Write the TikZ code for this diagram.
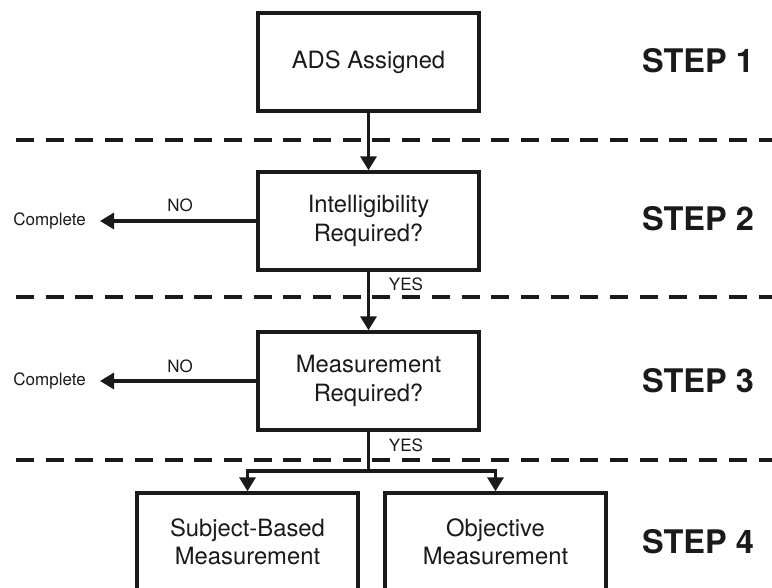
\documentclass[tikz,border=0pt]{standalone}
\usepackage{fontspec}
\setmainfont{TeX Gyre Heros}
\usepackage{xcolor}
\usetikzlibrary{arrows.meta, positioning, calc}
\definecolor{fcink}{HTML}{1A1A1A}

\begin{document}
\begin{tikzpicture}[
    x=1pt, y=-1pt,
    stepbox/.style={rectangle, draw=fcink, line width=3.4pt, minimum width=221pt, minimum height=98pt, align=center, text=fcink, font=\fontsize{23.8}{28.5}\selectfont},
    steplabel/.style={font=\fontsize{32.5}{36}\selectfont\bfseries, text=fcink},
    smalltext/.style={font=\fontsize{17}{20}\selectfont, text=fcink, inner sep=0pt},
    arrow/.style={-{Triangle[length=14pt, width=16pt]}, line width=3.3pt, draw=fcink},
    divider/.style={line width=3.3pt, draw=fcink, dash pattern=on 18pt off 11.7pt}
]
\useasboundingbox (0,0) rectangle (772,588);

% Step boxes
\node[stepbox] (ads) at (368.5,62) {ADS Assigned};
\node[stepbox] (intel) at (368.5,221) {Intelligibility\\Required?};
\node[stepbox] (meas) at (368.5,381) {Measurement\\Required?};
\node[stepbox] (subj) at (247.5,542) {Subject-Based\\Measurement};
\node[stepbox] (obj) at (495.5,542) {Objective\\Measurement};

% Step labels
\node[steplabel] (s1) at (698,61) {STEP 1};
\node[steplabel] (s2) at (698,219) {STEP 2};
\node[steplabel] (s3) at (698,381) {STEP 3};
\node[steplabel] (s4) at (698,542) {STEP 4};

% Dividers
\draw[divider] (16,140) -- (772,140);
\draw[divider] (16,297) -- (772,297);
\draw[divider] (16,460) -- (772,460);

% Exit nodes
\node[smalltext, anchor=east, inner xsep=14pt] (done2) at (100,221) {Complete};
\node[smalltext, anchor=east, inner xsep=14pt] (done3) at (100,381) {Complete};

% Flow
\draw[arrow] (ads.south) -- (intel.north);
\draw[arrow] (intel.west) -- (done2.east);
\draw[arrow] (intel.south) -- (meas.north);
\draw[arrow] (meas.west) -- (done3.east);
\coordinate (split) at (368.5,471);
\draw[line width=3.3pt, draw=fcink] (meas.south) -- (split);
\draw[arrow] (split) -| (subj.north);
\draw[arrow] (split) -| (obj.north);

% Branch labels
\node[smalltext] (no2) at (180,205) {NO};
\node[smalltext] (no3) at (180,366) {NO};
\node[smalltext] (yes2) at (406,284) {YES};
\node[smalltext] (yes3) at (406,445) {YES};

\end{tikzpicture}
\end{document}
